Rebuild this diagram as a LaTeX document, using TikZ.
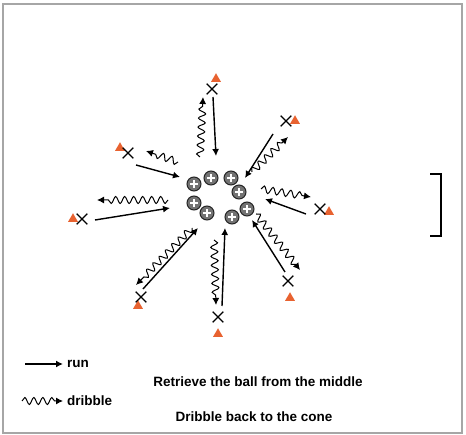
\documentclass[tikz,border=0pt]{standalone}
\usepackage{fontspec}
\setmainfont{Liberation Sans}
\usetikzlibrary{arrows.meta, positioning, shapes.geometric, shapes.misc}
\usetikzlibrary{calc,decorations.pathmorphing}
\definecolor{coneorange}{RGB}{232,98,48}

\begin{document}
\begin{tikzpicture}[
        x=1pt, y=-1pt,
        every node/.style={inner sep=0pt},
        cone/.style={regular polygon, regular polygon sides=3, fill=coneorange, minimum size=11.5pt},
        player/.style={cross out, draw=black, line width=1.2pt, minimum size=9.5pt},
        ball/.style={circle, draw=black!85, fill=black!55, line width=1pt, minimum size=14pt,
            path picture={\draw[white, line width=1.5pt] (path picture bounding box.center)
                +(-3.8,0) -- +(3.8,0) +(0,-3.8) -- +(0,3.8);}},
        run/.style={line width=1.4pt, -{Latex[length=7pt, width=7pt]}},
        dribble/.style={line width=1pt, -{Latex[length=7pt, width=7pt]}, decorate,
            decoration={snake, amplitude=3.5pt, segment length=9pt, post length=7pt}},
        txt/.style={font=\bfseries\fontsize{13.5}{15}\selectfont}
    ]
        \useasboundingbox (0,0) rectangle (466,435);
        \draw[gray!70, line width=1.4pt] (3,4) rectangle (462,433);

        % Balls in the middle
        \node[ball] (B1) at (194,184) {};
        \node[ball] (B2) at (211,178) {};
        \node[ball] (B3) at (231,178) {};
        \node[ball] (B4) at (239,192) {};
        \node[ball] (B5) at (194,203) {};
        \node[ball] (B6) at (207,213) {};
        \node[ball] (B7) at (232,217) {};
        \node[ball] (B8) at (247,209) {};

        % Cones and players
        \node[cone] (cT) at (216,79) {};
        \node[player] (pT) at (212,89) {};
        \node[cone] (cTR) at (295,121) {};
        \node[player] (pTR) at (286,121) {};
        \node[cone] (cR) at (329,212) {};
        \node[player] (pR) at (320,209) {};
        \node[cone] (cBR) at (290,298) {};
        \node[player] (pBR) at (288,281) {};
        \node[cone] (cB) at (218,334) {};
        \node[player] (pB) at (218,317) {};
        \node[cone] (cBL) at (138,306) {};
        \node[player] (pBL) at (141,297) {};
        \node[cone] (cL) at (73,219) {};
        \node[player] (pL) at (82,219) {};
        \node[cone] (cTL) at (120,148) {};
        \node[player] (pTL) at (128,153) {};

        % Arrow ends
        \coordinate (rT1) at (213,97);   \coordinate (rT2) at (216,156);
        \coordinate (dT1) at (200,157);  \coordinate (dT2) at (203,97);
        \coordinate (rTR1) at (273,134); \coordinate (rTR2) at (245,178);
        \coordinate (dTR1) at (252,172); \coordinate (dTR2) at (288,137);
        \coordinate (rR1) at (306,214);  \coordinate (rR2) at (265,199);
        \coordinate (dR1) at (261,189);  \coordinate (dR2) at (311,197);
        \coordinate (rBR1) at (285,272); \coordinate (rBR2) at (252,220);
        \coordinate (dBR1) at (256,214); \coordinate (dBR2) at (300,270);
        \coordinate (rB1) at (222,306);  \coordinate (rB2) at (225,228);
        \coordinate (dB1) at (214,240);  \coordinate (dB2) at (216,305);
        \coordinate (rBL1) at (143,289); \coordinate (rBL2) at (198,228);
        \coordinate (dBL1) at (192,228); \coordinate (dBL2) at (136,285);
        \coordinate (rL1) at (95,220);   \coordinate (rL2) at (170,208);
        \coordinate (dL1) at (168,200);  \coordinate (dL2) at (97,200);
        \coordinate (rTL1) at (136,165); \coordinate (rTL2) at (180,177);
        \coordinate (dTL1) at (178,162); \coordinate (dTL2) at (146,151);

        % Run in, dribble back
        \draw[run] (rT1) -- (rT2);
        \draw[dribble] (dT1) -- (dT2);
        \draw[run] (rTR1) -- (rTR2);
        \draw[dribble] (dTR1) -- (dTR2);
        \draw[run] (rR1) -- (rR2);
        \draw[dribble] (dR1) -- (dR2);
        \draw[run] (rBR1) -- (rBR2);
        \draw[dribble] (dBR1) -- (dBR2);
        \draw[run] (rB1) -- (rB2);
        \draw[dribble] (dB1) -- (dB2);
        \draw[run] (rBL1) -- (rBL2);
        \draw[dribble] (dBL1) -- (dBL2);
        \draw[run] (rL1) -- (rL2);
        \draw[dribble] (dL1) -- (dL2);
        \draw[run] (rTL1) -- (rTL2);
        \draw[dribble] (dTL1) -- (dTL2);

        % Goal
        \draw[line width=1.8pt] (430,174) -- (441,174) -- (441,236) -- (430,236);

        % Legend
        \coordinate (kr1) at (25,364);  \coordinate (kr2) at (63,364);
        \coordinate (kd1) at (22,401);  \coordinate (kd2) at (63,401);
        \draw[run, line width=1.8pt] (kr1) -- (kr2);
        \draw[dribble] (kd1) -- (kd2);
        \node[txt, anchor=west] (lrun) at (67,364) {run};
        \node[txt, anchor=west] (ldrib) at (67,401) {dribble};
        \node[txt] (t1) at (258,382) {Retrieve the ball from the middle};
        \node[txt] (t2) at (254,417) {Dribble back to the cone};
    \end{tikzpicture}
\end{document}
